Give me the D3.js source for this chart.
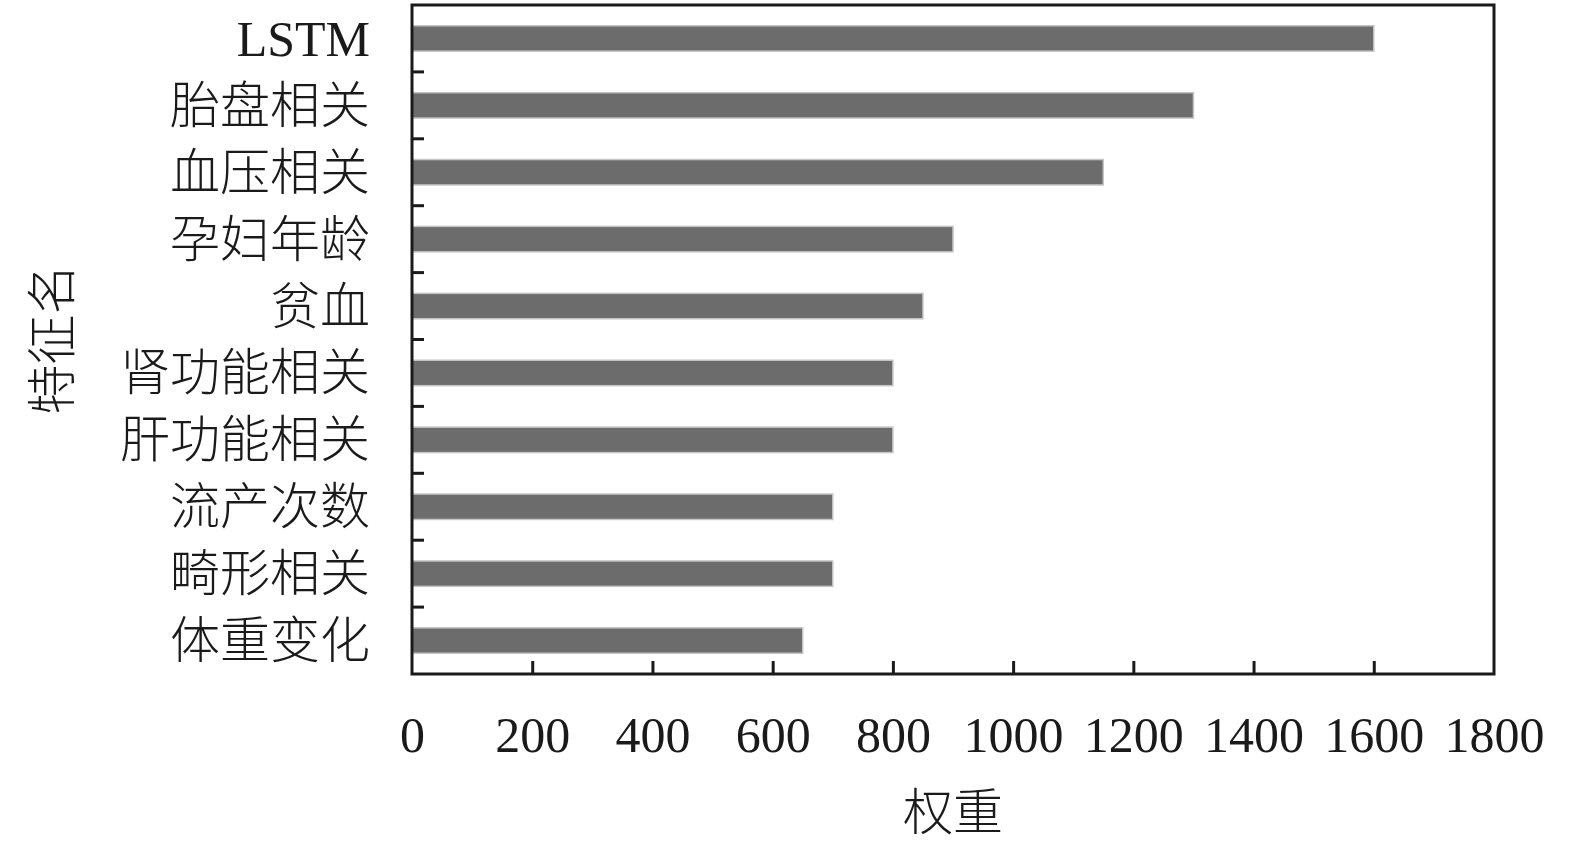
<!DOCTYPE html>
<html>
<head>
<meta charset="utf-8">
<script src="https://cdn.jsdelivr.net/npm/d3@7"></script>
<style>
  body { margin: 0; background: #fff; }
  text { font-family: "Liberation Serif", "Noto Sans CJK SC", serif; fill: #1a1a1a; }
</style>
</head>
<body>
<svg id="canvas" width="1575" height="846"></svg>
<script>
// feature names, top to bottom
var features = ['LSTM', '胎盘相关', '血压相关', '孕妇年龄', '贫血', '肾功能相关', '肝功能相关', '流产次数', '畸形相关', '体重变化']
// weights
var weights = [1600, 1300, 1150, 900, 850, 800, 800, 700, 700, 650]
var xTicks = [0, 200, 400, 600, 800, 1000, 1200, 1400, 1600, 1800]
var xTitle = '权重'
var yTitle = '特征名'

var svg = d3.select('#canvas')
// plot box (window.top is reserved, so prefixed names)
var plotL = 412, plotR = 1494, plotT = 5, plotB = 674
var pad = 0.62

var x = d3.scaleLinear().domain([0, 1800]).range([plotL, plotR])
var y = d3.scaleBand().domain(features).range([plotT, plotB])
  .paddingInner(pad).paddingOuter(pad / 2)

// bars
svg.selectAll('.bar')
  .data(weights)
  .enter()
  .append('rect')
  .attr('class', 'bar')
  .attr('x', x(0))
  .attr('y', function(d, i) { return y(features[i]) })
  .attr('width', function(d) { return x(d) - x(0) })
  .attr('height', y.bandwidth())
  .attr('fill', '#6c6c6c')
  .attr('stroke', '#c4c4c4')
  .attr('stroke-width', 1.5)

// frame around the plot
svg.append('rect')
  .attr('x', plotL)
  .attr('y', plotT)
  .attr('width', plotR - plotL)
  .attr('height', plotB - plotT)
  .attr('fill', 'none')
  .attr('stroke', '#1a1a1a')
  .attr('stroke-width', 3)

// bottom axis, ticks pointing inward
var xAxis = svg.append('g')
  .attr('transform', 'translate(0,' + plotB + ')')
  .call(d3.axisBottom(x).tickValues(xTicks).tickSize(-13).tickPadding(42).tickFormat(d3.format('d')))
xAxis.select('.domain').remove()
xAxis.selectAll('.tick line').attr('stroke', '#1a1a1a').attr('stroke-width', 3)
  .filter(function(d) { return d === 0 || d === 1800 }).remove()
xAxis.selectAll('.tick text')
  .attr('font-size', 50)
  .attr('dy', '0.71em')
  .attr('fill', '#1a1a1a')

// left axis: labels at bands, ticks at band boundaries
var yAxis = svg.append('g')
  .attr('transform', 'translate(' + plotL + ',0)')
  .call(d3.axisLeft(y).tickSize(0).tickPadding(42))
yAxis.select('.domain').remove()
yAxis.selectAll('.tick text')
  .attr('font-size', 50)
  .attr('font-weight', 300)
  .attr('dy', '0.35em')
  .attr('fill', '#1a1a1a')

svg.selectAll('.ytick')
  .data(features.slice(1))
  .enter()
  .append('line')
  .attr('class', 'ytick')
  .attr('x1', plotL)
  .attr('x2', plotL + 12)
  .attr('y1', function(d) { return y(d) - y.step() * pad / 2 })
  .attr('y2', function(d) { return y(d) - y.step() * pad / 2 })
  .attr('stroke', '#1a1a1a')
  .attr('stroke-width', 3)

// axis titles
svg.append('text')
  .attr('x', (plotL + plotR) / 2)
  .attr('y', 830)
  .attr('text-anchor', 'middle')
  .attr('font-size', 50)
  .attr('font-weight', 300)
  .text(xTitle)

svg.append('text')
  .attr('transform', 'translate(70,' + (plotT + plotB) / 2 + ') rotate(-90)')
  .attr('text-anchor', 'middle')
  .attr('font-size', 50)
  .attr('font-weight', 300)
  .text(yTitle)
</script>
</body>
</html>
